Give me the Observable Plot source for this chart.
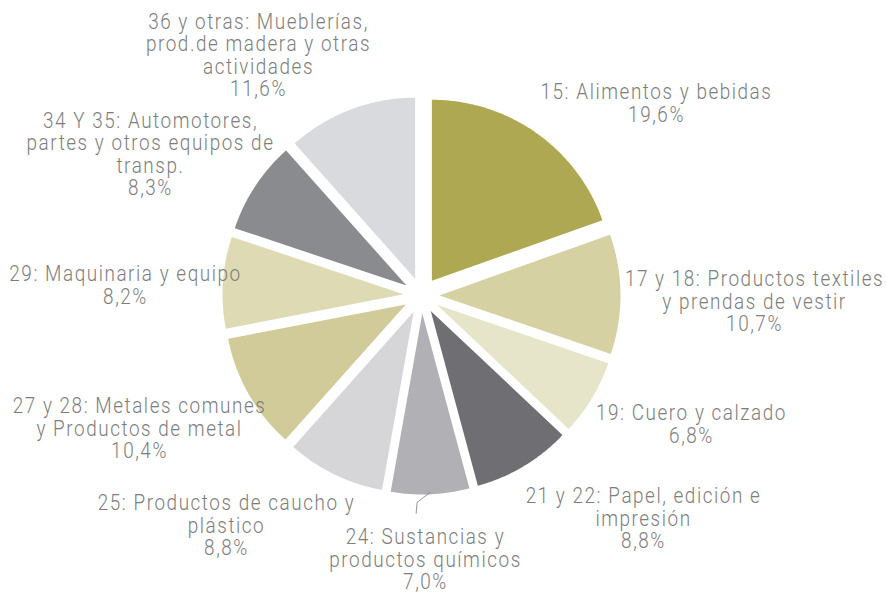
<!DOCTYPE html>
<html>
<head>
<meta charset="utf-8">
<script src="https://cdn.jsdelivr.net/npm/d3@7"></script>
<script src="https://cdn.jsdelivr.net/npm/@observablehq/plot@0.6"></script>
<style>
  html, body { margin: 0; padding: 0; background: #ffffff; }
  #chart svg { display: block; }
</style>
</head>
<body>
<div id="chart"></div>
<script>
// ---- data (clockwise from 12 o'clock) ----
const categories = [
  "15: Alimentos y bebidas",
  "17 y 18: Productos textiles\ny prendas de vestir",
  "19: Cuero y calzado",
  "21 y 22: Papel, edición e\nimpresión",
  "24: Sustancias y\nproductos químicos",
  "25: Productos de caucho y\nplástico",
  "27 y 28: Metales comunes\ny Productos de metal",
  "29: Maquinaria y equipo",
  "34 Y 35: Automotores,\npartes y otros equipos de\ntransp.",
  "36 y otras: Mueblerías,\nprod.de madera y otras\nactividades"
];
const shares = [19.6, 10.7, 6.8, 8.8, 7.0, 8.8, 10.4, 8.2, 8.3, 11.6];

// ---- styles / layout ----
const colors = [
  "#aea853", "#d5d1a2", "#e7e5c9", "#6f6f73", "#b1b1b5",
  "#d6d6d9", "#d0cb98", "#dedab3", "#8a8b8f", "#d9dadd"
];
const W = 887, H = 594;
const cx = 421, cy = 295;      // pie centre (px)
const R = 181;                 // radius (px)
const explode = 18 / R;        // offset of every slice along its bisector (radius units)
// label centres, px offsets from the pie centre
const labelOffsets = [
  [235, -192], [333, 6], [270, 129], [222, 223], [4, 264],
  [-195, 230], [-282, 133], [-296, -10], [-271, -141], [-163, -240]
];
const FONT = "Roboto, 'Noto Sans', sans-serif";
const FONT_SIZE = 22, SQUEEZE = 0.86;   // narrow, tall lettering like the original

// ---- geometry through d3.pie ----
const arcs = d3.pie().sort(null).value(d => d)(shares);
const dir = a => [Math.sin(a), Math.cos(a)];   // clockwise from top, y up
const fmt = v => v.toFixed(1).replace(".", ",") + "%";

const slices = arcs.map((a, i) => {
  const mid = (a.startAngle + a.endAngle) / 2;
  const [ox, oy] = dir(mid).map(v => v * explode);
  const pts = [{i, x: ox, y: oy}];
  const n = Math.max(8, Math.ceil((a.endAngle - a.startAngle) / 0.01));
  for (let k = 0; k <= n; k++) {
    const t = a.startAngle + (a.endAngle - a.startAngle) * k / n;
    const [dx, dy] = dir(t);
    pts.push({i, x: ox + dx, y: oy + dy});
  }
  pts.push({i, x: ox, y: oy});
  return pts;
});

const labels = categories.map((c, i) => ({
  text: c + "\n" + fmt(shares[i]),
  x: labelOffsets[i][0] / R,
  y: -labelOffsets[i][1] / R
}));

// leader line for "24"
const a24 = arcs[4];
const m24 = (a24.startAngle + a24.endAngle) / 2;
const s24 = dir(m24).map(v => v * (1 + explode - 2 / R));
const leader = [
  {x: s24[0], y: s24[1]},
  {x: s24[0] - 13 / R, y: s24[1] - 10 / R},
  {x: s24[0] - 14 / R, y: s24[1] - 21 / R}
];

const marks = slices.map((pts, i) =>
  Plot.line(pts, {x: "x", y: "y", fill: colors[i], stroke: "none", curve: "linear"})
);
marks.push(Plot.line(leader, {x: "x", y: "y", stroke: "#7a7a7a", strokeWidth: 0.8}));
marks.push(Plot.text(labels, {
  x: "x", y: "y", text: "text",
  fill: "#7d7d7d",
  fontSize: FONT_SIZE,
  fontWeight: 300,
  lineHeight: 22.5 / FONT_SIZE,
  textAnchor: "middle",
  fontFamily: FONT
}));

const chart = Plot.plot({
  width: W,
  height: H,
  margin: 0,
  x: {domain: [-cx / R, (W - cx) / R], range: [0, W], axis: null},
  y: {domain: [-(H - cy) / R, cy / R], range: [H, 0], axis: null},
  style: {background: "#ffffff", letterSpacing: "1.8px", fontFamily: FONT},
  marks
});

// condense the lettering horizontally around each label's anchor
d3.select(chart).selectAll("text").each(function () {
  const t = this.getAttribute("transform");
  if (t) {
    this.setAttribute("transform", t + ` scale(${SQUEEZE},1)`);
  } else {
    const x = +this.getAttribute("x") || 0;
    this.setAttribute("transform", `translate(${x},0) scale(${SQUEEZE},1) translate(${-x},0)`);
  }
});
document.getElementById("chart").appendChild(chart);
</script>
</body>
</html>
